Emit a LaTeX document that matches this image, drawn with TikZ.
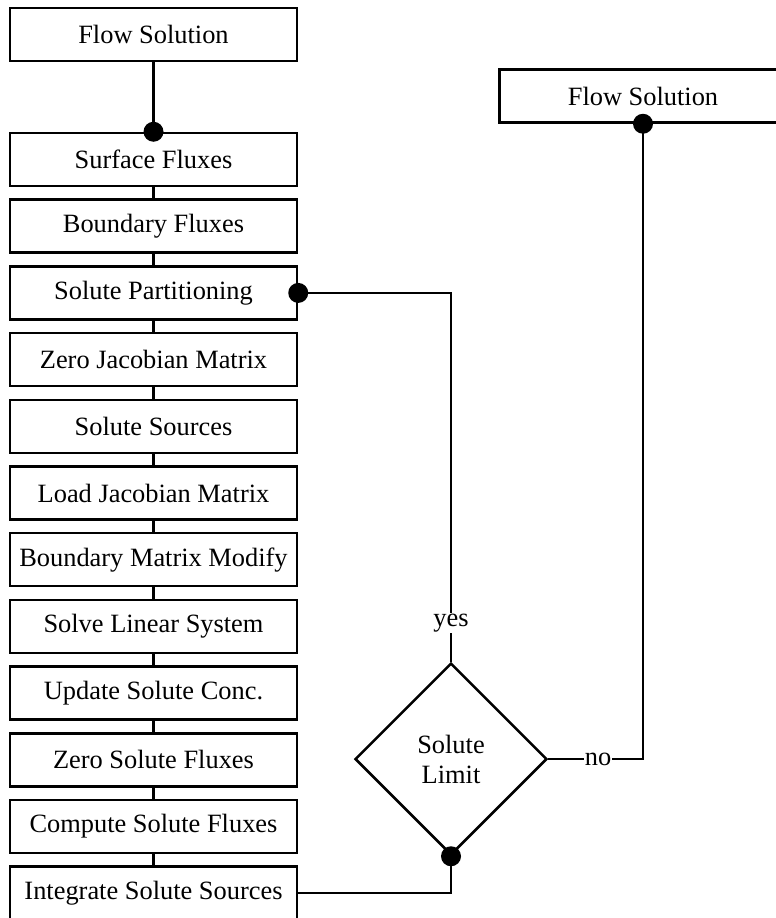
\documentclass[tikz,border=0pt]{standalone}
\usepackage{fontspec}
\setmainfont{Liberation Serif}
\usetikzlibrary{shapes.geometric}

\begin{document}
\begin{tikzpicture}[x=1pt,y=-1pt,line width=2.5pt,
		box/.style={draw,minimum width=287pt,minimum height=53pt,inner sep=0pt,
			font=\fontsize{26.4}{30}\selectfont},
		decide/.style={draw,diamond,aspect=1,minimum size=192pt,inner sep=0pt,
			align=center,font=\fontsize{26.4}{30}\selectfont},
		lbl/.style={fill=white,inner sep=1pt,font=\fontsize{26.4}{30}\selectfont},
		bullet/.style={circle,inner sep=0pt,minimum size=20pt,fill}]
	\useasboundingbox (0,0) rectangle (776,918);
	%\draw[red] (0,0) rectangle (776,918);
	\node[box] (flowL) at (153.5,34.5) {Flow Solution};
	\node[box] (flowR) at (643,96) {Flow Solution};
	\foreach \X [count=\Y] in {Surface Fluxes,Boundary Fluxes,Solute Partitioning,
		Zero Jacobian Matrix,Solute Sources,Load Jacobian Matrix,Boundary Matrix Modify,
		Solve Linear System,Update Solute Conc.,Zero Solute Fluxes,Compute Solute Fluxes,
		Integrate Solute Sources}
	{\node[box] (n\Y) at (153.5,{159.5+(\Y-1)*66.7}) {\X};}
	\foreach \Y in {1,...,11}
	{\pgfmathtruncatemacro\Z{\Y+1}
		\draw (n\Y.south) -- (n\Z.north);}
	\node[decide] (limit) at (451,759) {Solute\\Limit};
	
	\draw (flowL.south) -- (n1.north);
	\draw (n3.east) -| (limit.north) node[lbl,pos=0.947]{yes};
	\draw (limit.east) -| (flowR.south) node[lbl,pos=0.263]{no};
	\draw (limit.south) |- (n12.east);
	%\draw (limit.south) -- (n12.east);
	\foreach \P in {n1.north,n3.east,flowR.south,limit.south}
	{\node[bullet] at (\P) {};}
\end{tikzpicture}
\end{document}
